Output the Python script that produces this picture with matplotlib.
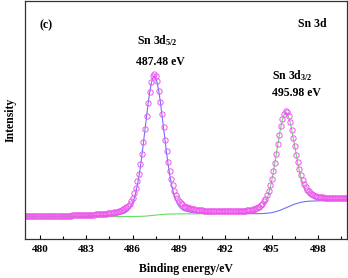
import numpy as np
from matplotlib import pyplot as plt

plt.rcParams['font.family'] = 'Liberation Serif'
plt.rcParams['font.weight'] = 'bold'
plt.rcParams['mathtext.fontset'] = 'custom'
plt.rcParams['mathtext.rm'] = 'Liberation Serif:bold'
plt.rcParams['mathtext.it'] = 'Liberation Serif:bold'
plt.rcParams['mathtext.bf'] = 'Liberation Serif:bold'

# binding energy scan, 0.1 eV steps
energy = np.linspace(479.0, 499.9, 210)

# measured Sn 3d spectrum (open circles)
intensity = [
	9.61, 9.61, 9.62, 9.62, 9.63, 9.63, 9.64, 9.64, 9.65, 9.65,
	9.66, 9.67, 9.67, 9.68, 9.69, 9.70, 9.71, 9.72, 9.72, 9.73,
	9.74, 9.75, 9.76, 9.77, 9.78, 9.79, 9.80, 9.82, 9.83, 9.85,
	9.87, 9.89, 9.90, 9.92, 9.94, 9.96, 9.98, 10.01, 10.03, 10.06,
	10.09, 10.12, 10.15, 10.18, 10.22, 10.26, 10.30, 10.35, 10.40, 10.45,
	10.50, 10.56, 10.63, 10.70, 10.78, 10.87, 10.97, 11.08, 11.19, 11.32,
	11.49, 11.67, 11.87, 12.13, 12.45, 12.83, 13.35, 13.98, 14.85, 15.95,
	17.33, 19.13, 21.41, 24.16, 27.50, 31.44, 35.91, 40.89, 46.19, 51.67,
	57.03, 61.91, 65.89, 68.55, 69.52, 68.69, 66.18, 62.32, 57.58, 52.32,
	46.95, 41.73, 36.81, 32.40, 28.50, 25.22, 22.49, 20.23, 18.45, 17.07,
	15.99, 15.13, 14.50, 13.99, 13.61, 13.29, 13.04, 12.84, 12.73, 12.59,
	12.47, 12.36, 12.26, 12.17, 12.09, 12.02, 11.96, 11.90, 11.85, 11.81,
	11.77, 11.74, 11.70, 11.68, 11.66, 11.64, 11.62, 11.61, 11.60, 11.60,
	11.60, 11.60, 11.61, 11.62, 11.63, 11.65, 11.67, 11.70, 11.73, 11.76,
	11.80, 11.85, 11.91, 11.97, 12.04, 12.13, 12.23, 12.36, 12.51, 12.70,
	12.94, 13.24, 13.63, 14.16, 14.86, 15.76, 16.92, 18.43, 20.29, 22.56,
	25.28, 28.42, 31.97, 35.81, 39.83, 43.80, 47.48, 50.57, 52.69, 53.63,
	53.26, 51.70, 49.15, 45.98, 42.49, 38.91, 35.45, 32.27, 29.41, 26.96,
	24.90, 23.20, 21.84, 20.78, 19.97, 19.32, 18.85, 18.48, 18.21, 17.97,
	17.78, 17.65, 17.54, 17.46, 17.39, 17.33, 17.29, 17.25, 17.22, 17.19,
	17.16, 17.14, 17.13, 17.12, 17.11, 17.11, 17.10, 17.10, 17.11, 17.11,
]

# fitted Sn 3d5/2 component + background (blue)
fit_5_2 = [
	9.47, 9.47, 9.47, 9.47, 9.47, 9.47, 9.48, 9.48, 9.48, 9.48,
	9.49, 9.49, 9.49, 9.49, 9.49, 9.50, 9.50, 9.50, 9.51, 9.51,
	9.51, 9.52, 9.52, 9.52, 9.53, 9.53, 9.54, 9.54, 9.55, 9.55,
	9.56, 9.56, 9.57, 9.58, 9.58, 9.59, 9.60, 9.61, 9.62, 9.63,
	9.64, 9.65, 9.66, 9.67, 9.68, 9.70, 9.71, 9.73, 9.75, 9.77,
	9.79, 9.81, 9.83, 9.86, 9.89, 9.92, 9.96, 10.00, 10.04, 10.09,
	10.17, 10.25, 10.36, 10.51, 10.70, 10.98, 11.39, 11.91, 12.71, 13.78,
	15.17, 17.04, 19.46, 22.41, 26.04, 30.31, 35.13, 40.41, 45.95, 51.50,
	56.81, 61.47, 65.16, 67.57, 68.45, 67.71, 65.44, 61.87, 57.35, 52.14,
	46.69, 41.23, 36.01, 31.25, 27.02, 23.43, 20.50, 18.10, 16.25, 14.86,
	13.80, 13.01, 12.49, 12.08, 11.80, 11.61, 11.46, 11.35, 11.24, 11.19,
	11.14, 11.10, 11.06, 11.02, 10.99, 10.96, 10.93, 10.91, 10.89, 10.87,
	10.85, 10.83, 10.81, 10.80, 10.78, 10.77, 10.76, 10.75, 10.74, 10.73,
	10.72, 10.71, 10.70, 10.69, 10.68, 10.68, 10.67, 10.66, 10.66, 10.65,
	10.65, 10.64, 10.64, 10.63, 10.63, 10.62, 10.62, 10.62, 10.62, 10.63,
	10.63, 10.63, 10.64, 10.67, 10.68, 10.72, 10.76, 10.82, 10.88, 10.97,
	11.08, 11.21, 11.37, 11.53, 11.74, 11.96, 12.20, 12.47, 12.74, 13.02,
	13.31, 13.60, 13.89, 14.16, 14.43, 14.67, 14.88, 15.09, 15.26, 15.42,
	15.55, 15.66, 15.75, 15.82, 15.88, 15.92, 15.95, 15.97, 16.00, 16.01,
	16.02, 16.04, 16.07, 16.10, 16.13, 16.16, 16.19, 16.22, 16.25, 16.28,
	16.30, 16.33, 16.36, 16.39, 16.42, 16.45, 16.48, 16.51, 16.54, 16.57,
]

# fitted Sn 3d3/2 component + background (green)
fit_3_2 = [
	9.41, 9.41, 9.41, 9.41, 9.41, 9.41, 9.41, 9.41, 9.41, 9.41,
	9.41, 9.41, 9.41, 9.41, 9.41, 9.41, 9.41, 9.41, 9.41, 9.41,
	9.41, 9.41, 9.41, 9.41, 9.41, 9.42, 9.42, 9.42, 9.42, 9.42,
	9.42, 9.42, 9.42, 9.42, 9.42, 9.42, 9.42, 9.42, 9.42, 9.42,
	9.42, 9.42, 9.42, 9.42, 9.42, 9.42, 9.42, 9.42, 9.42, 9.42,
	9.42, 9.42, 9.42, 9.42, 9.42, 9.43, 9.43, 9.43, 9.43, 9.43,
	9.43, 9.43, 9.43, 9.43, 9.43, 9.43, 9.43, 9.43, 9.44, 9.44,
	9.44, 9.45, 9.46, 9.47, 9.49, 9.51, 9.54, 9.57, 9.61, 9.66,
	9.72, 9.79, 9.85, 9.92, 9.99, 10.06, 10.13, 10.19, 10.26, 10.31,
	10.36, 10.41, 10.44, 10.47, 10.49, 10.51, 10.52, 10.53, 10.54, 10.54,
	10.56, 10.56, 10.56, 10.57, 10.57, 10.57, 10.58, 10.58, 10.58, 10.58,
	10.59, 10.59, 10.59, 10.59, 10.60, 10.60, 10.61, 10.61, 10.61, 10.62,
	10.62, 10.63, 10.63, 10.64, 10.64, 10.65, 10.66, 10.67, 10.67, 10.68,
	10.69, 10.70, 10.71, 10.72, 10.74, 10.75, 10.76, 10.78, 10.80, 10.82,
	10.84, 10.86, 10.88, 10.91, 10.94, 10.98, 11.02, 11.10, 11.19, 11.31,
	11.47, 11.71, 12.04, 12.52, 13.17, 14.08, 15.29, 16.87, 18.88, 21.37,
	24.33, 27.74, 31.53, 35.56, 39.69, 43.65, 47.22, 50.11, 52.08, 52.96,
	52.66, 51.25, 48.92, 45.86, 42.39, 38.71, 35.07, 31.65, 28.54, 25.85,
	23.58, 21.75, 20.32, 19.22, 18.41, 17.82, 17.41, 17.11, 16.91, 16.76,
	16.66, 16.60, 16.55, 16.54, 16.53, 16.53, 16.53, 16.54, 16.55, 16.56,
	16.57, 16.58, 16.59, 16.61, 16.62, 16.64, 16.66, 16.68, 16.70, 16.72,
]

xticks = [480, 483, 486, 489, 492, 495, 498]

fig = plt.figure(figsize=(3.48, 2.78), dpi=100)
ax = fig.add_axes([25/348, 1 - 239/278, 322/348, 238/278])

ax.plot(energy, fit_5_2, color='#7070ff', lw=0.8)
ax.plot(energy, fit_3_2, color='#66dd66', lw=0.8)
ax.plot(energy, intensity, 'o', mfc='none', mec='#ee55ee', ms=3.8, mew=0.7)

ax.set_xlim(479.03, 499.88)
ax.set_ylim(0, 100)
ax.set_xticks(xticks)
ax.set_xticks([x + 1.5 for x in xticks], minor=True)
ax.set_yticks([])
ax.tick_params(axis='x', which='major', direction='in', length=3, width=0.8, pad=4.5, labelsize=8)
ax.tick_params(axis='x', which='minor', direction='in', length=2, width=0.8)
for sp in ax.spines.values():
	sp.set_linewidth(0.9)
	sp.set_color('#333333')

ax.set_xlabel('Binding energy/eV', fontsize=8.5, fontweight='bold', labelpad=6)
ax.set_ylabel('Intensity', fontsize=8.5, fontweight='bold', labelpad=6)

fig.text(46/348, 1 - 25/278, '(c)', fontsize=8.5, ha='center', va='center')
fig.text(312/348, 1 - 24/278, 'Sn 3d', fontsize=8.5, ha='center', va='center')
fig.text(157/348, 1 - 41/278, 'Sn 3d$_{5/2}$', fontsize=8.5, ha='center', va='center')
fig.text(160/348, 1 - 62/278, '487.48 eV', fontsize=8.5, ha='center', va='center')
fig.text(292/348, 1 - 76/278, 'Sn 3d$_{3/2}$', fontsize=8.5, ha='center', va='center')
fig.text(296/348, 1 - 93/278, '495.98 eV', fontsize=8.5, ha='center', va='center')

plt.savefig('out.png', dpi=100)
